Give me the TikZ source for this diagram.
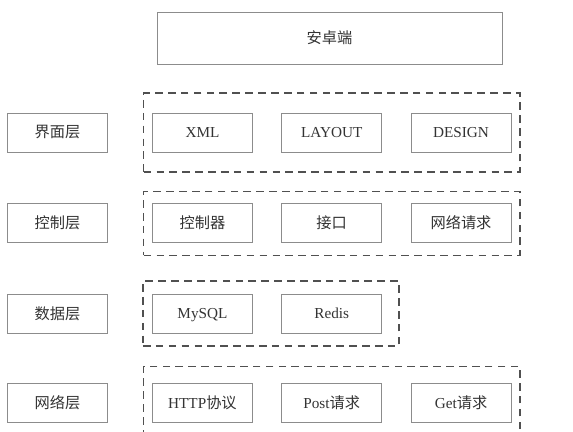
\documentclass[tikz,border=0pt]{standalone}
\usepackage{fontspec}
\setmainfont{Liberation Serif}
\newfontfamily\cjk{Noto Sans CJK SC}
\usepackage{tikz}
\usetikzlibrary{positioning,fit}
\usepackage{xcolor}
\definecolor{boxline}{HTML}{8C8C8C}
\definecolor{groupline}{HTML}{505050}
\definecolor{inktext}{HTML}{333333}

\newcommand{\zh}[1]{{\cjk\fontsize{13}{15}\selectfont #1}}

\begin{document}
\begin{tikzpicture}[
  x=0.03cm, y=-0.03cm,
  font=\fontsize{13}{15}\selectfont,
  node distance=0.85cm,
  box/.style={
    draw=boxline,
    line width=0.8pt,
    text=inktext,
    minimum width=3.0cm,
    minimum height=1.17cm,
    inner sep=0pt
  },
  group/.style={
    draw=groupline,
    line width=1.4pt,
    dash pattern=on 6.5pt off 4.5pt,
    inner sep=0pt
  }
]
  \useasboundingbox (0,0) rectangle (573,432);

  % Top block
  \node[box, minimum width=10.35cm, minimum height=1.56cm] (app) at (329.5,38) {\zh{安卓端}};

  % View layer
  \node[box] (ui) at (57.5,132.5) {\zh{界面层}};
  \node[box, right=1.32cm of ui] (xml) {XML};
  \node[box, right=of xml] (layout) {LAYOUT};
  \node[box, right=of layout] (design) {DESIGN};

  % Control layer
  \node[box] (ctrl) at (57.5,222.5) {\zh{控制层}};
  \node[box, right=1.32cm of ctrl] (controller) {\zh{控制器}};
  \node[box, right=of controller] (iface) {\zh{接口}};
  \node[box, right=of iface] (netreq) {\zh{网络请求}};

  % Data layer
  \node[box] (data) at (57.5,313.5) {\zh{数据层}};
  \node[box, right=1.32cm of data, text depth=0pt] (mysql) {MySQL};
  \node[box, right=of mysql] (redis) {Redis};

  % Network layer
  \node[box] (net) at (57.5,403) {\zh{网络层}};
  \node[box, right=1.32cm of net] (http) {HTTP\zh{协议}};
  \node[box, right=of http] (post) {Post\zh{请求}};
  \node[box, right=of post] (get) {Get\zh{请求}};

  % Dashed groups
  \node[group, fit=(xml)(design), inner xsep=0.25cm, inner ysep=0.58cm] (uigroup) {};
  \node[group, fit=(controller)(netreq), inner xsep=0.25cm, inner ysep=0.36cm, yshift=-0.03cm] (ctrlgroup) {};
  \node[group, fit=(mysql)(redis), inner xsep=0.39cm, inner ysep=0.37cm, xshift=0.12cm] (datagroup) {};
  \node[group, fit=(http)(get), inner xsep=0.25cm, inner ysep=0.5cm] (netgroup) {};

\end{tikzpicture}
\end{document}
